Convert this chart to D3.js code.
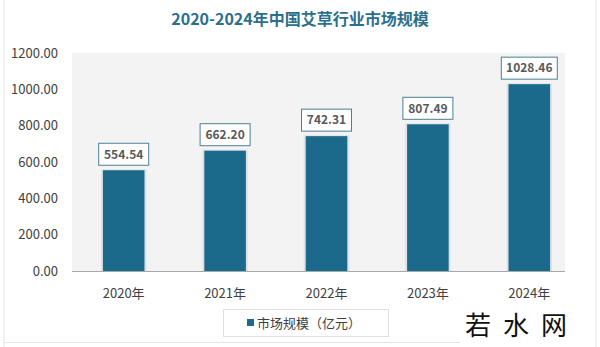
<!doctype html>
<html>
<head>
<meta charset="utf-8">
<script src="https://cdnjs.cloudflare.com/ajax/libs/d3/7.8.5/d3.min.js"></script>
<style>
  body { margin: 0; background: #fff; }
  svg { display: block; }
</style>
</head>
<body>
<svg width="600" height="347"></svg>
<script>
  // data
  var years = ["2020年", "2021年", "2022年", "2023年", "2024年"];
  var marketSize = [554.54, 662.20, 742.31, 807.49, 1028.46];
  var yTicks = [0, 200, 400, 600, 800, 1000, 1200];

  var svg = d3.select("svg");
  var font = "'Noto Sans CJK SC', 'Noto Sans', sans-serif";

  // outer frame lines
  svg.append("line").attr("x1", 4).attr("x2", 4).attr("y1", 0).attr("y2", 347).attr("stroke", "#e4e4e4");
  svg.append("line").attr("x1", 596).attr("x2", 596).attr("y1", 0).attr("y2", 347).attr("stroke", "#e4e4e4");

  svg.append("text")
    .attr("x", 300).attr("y", 25)
    .attr("text-anchor", "middle")
    .attr("font-family", "'Noto Sans CJK SC', serif")
    .attr("font-size", 16).attr("font-weight", "bold")
    .attr("fill", "#2b6f8c")
    .text("2020-2024年中国艾草行业市场规模");

  var x = d3.scaleBand().domain(years).range([73, 580]).paddingInner(0.59).paddingOuter(0.295);
  var y = d3.scaleLinear().domain([0, 1200]).range([271, 53]);

  // plot background
  svg.append("rect")
    .attr("x", 72).attr("y", y(1200))
    .attr("width", 493).attr("height", y(0) - y(1200))
    .attr("fill", "#f3f3f3");

  // y axis labels
  svg.append("g").selectAll("text")
    .data(yTicks).enter().append("text")
    .attr("x", 58).attr("y", function (d) { return y(d); })
    .attr("dy", "0.35em")
    .attr("text-anchor", "end")
    .attr("font-family", font).attr("font-size", 13)
    .attr("fill", "#404040")
    .text(function (d) { return d3.format(".2f")(d); });

  // bars with soft shadow
  svg.append("g").selectAll("rect")
    .data(marketSize).enter().append("rect")
    .attr("x", function (d, i) { return x(years[i]) - 2; })
    .attr("y", function (d) { return y(d) - 1; })
    .attr("width", x.bandwidth() + 4)
    .attr("height", function (d) { return y(0) - y(d) + 1; })
    .attr("fill", "#dde3e6");

  svg.append("g").selectAll("rect")
    .data(marketSize).enter().append("rect")
    .attr("x", function (d, i) { return x(years[i]); })
    .attr("y", function (d) { return y(d); })
    .attr("width", x.bandwidth())
    .attr("height", function (d) { return y(0) - y(d); })
    .attr("fill", "#1c6a8b");

  // x axis line
  svg.append("line")
    .attr("x1", 72).attr("x2", 565)
    .attr("y1", y(0) + 0.5).attr("y2", y(0) + 0.5)
    .attr("stroke", "#a8a8a8");

  // value labels
  var lab = svg.append("g").selectAll("g")
    .data(marketSize).enter().append("g")
    .attr("transform", function (d, i) {
      return "translate(" + (x(years[i]) + x.bandwidth() / 2) + "," + (y(d) - 16) + ")";
    });
  lab.append("rect")
    .attr("x", function (d) { return d >= 1000 ? -28 : -25; })
    .attr("y", -11)
    .attr("width", function (d) { return d >= 1000 ? 56 : 50; })
    .attr("height", 22)
    .attr("fill", "#fff")
    .attr("stroke", "#4b7f95").attr("stroke-width", 1);
  lab.append("text")
    .attr("text-anchor", "middle").attr("dy", "0.36em")
    .attr("font-family", font).attr("font-size", 12).attr("font-weight", "bold")
    .attr("fill", "#595959")
    .text(function (d) { return d3.format(".2f")(d); });

  // x labels
  svg.append("g").selectAll("text")
    .data(years).enter().append("text")
    .attr("x", function (d) { return x(d) + x.bandwidth() / 2; })
    .attr("y", 293)
    .attr("dy", "0.35em")
    .attr("text-anchor", "middle")
    .attr("font-family", font).attr("font-size", 13)
    .attr("fill", "#404040")
    .text(function (d) { return d; });

  // legend
  svg.append("rect")
    .attr("x", 223.5).attr("y", 309.5).attr("width", 165).attr("height", 27)
    .attr("fill", "#fff").attr("stroke", "#e0e0e0");
  svg.append("rect")
    .attr("x", 247).attr("y", 319).attr("width", 7).attr("height", 7)
    .attr("fill", "#1c6a8b");
  svg.append("text")
    .attr("x", 257).attr("y", 323).attr("dy", "0.35em")
    .attr("font-family", font).attr("font-size", 13)
    .attr("fill", "#404040")
    .text("市场规模（亿元）");

  svg.append("line").attr("x1", 4).attr("x2", 460).attr("y1", 342.5).attr("y2", 342.5).attr("stroke", "#e4e4e4");

  // watermark
  svg.append("text")
    .attr("x", 522).attr("y", 335)
    .attr("text-anchor", "middle")
    .attr("font-family", font).attr("font-size", 26)
    .attr("fill", "#111")
    .attr("letter-spacing", 12)
    .text("若水网");
</script>
</body>
</html>
